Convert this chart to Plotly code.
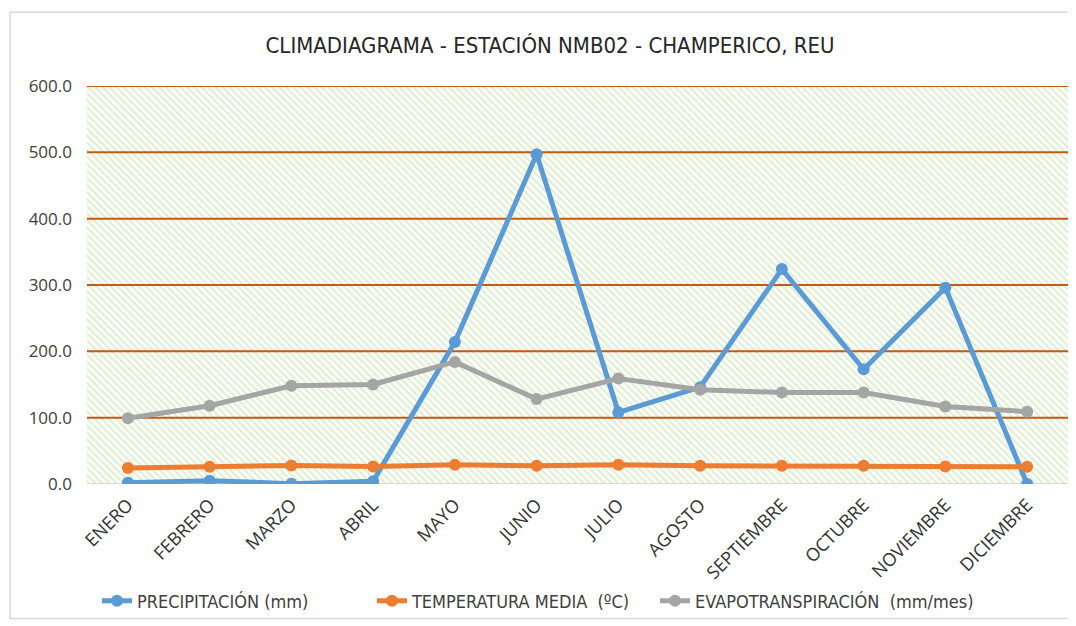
import plotly.graph_objects as go

# Climadiagrama - estacion NMB02 Champerico, REU
meses = ['ENERO', 'FEBRERO', 'MARZO', 'ABRIL', 'MAYO', 'JUNIO', 'JULIO',
         'AGOSTO', 'SEPTIEMBRE', 'OCTUBRE', 'NOVIEMBRE', 'DICIEMBRE']
precipitacion = [2.0, 5.0, 0.5, 4.0, 214.0, 497.0, 108.0, 146.0, 324.0, 173.0, 296.0, 0.0]
temperatura = [24.0, 26.0, 28.0, 26.5, 29.0, 27.5, 29.0, 27.5, 27.5, 27.5, 26.5, 26.0]
evapotranspiracion = [99.0, 118.0, 148.0, 150.0, 184.0, 128.0, 159.0, 142.0, 138.0, 138.0, 117.0, 109.0]
y_ticks = [0, 100, 200, 300, 400, 500, 600]

narrow = 'DejaVu Sans Condensed, Liberation Sans Narrow, Roboto, sans-serif'
body = 'Open Sans, Noto Sans, sans-serif'

idx = list(range(len(meses)))
x_lo, x_hi = -0.5, len(meses) - 0.5

fig = go.Figure()

# hatched green plot background (Excel pattern fill)
fig.add_trace(go.Bar(x=idx, y=[max(y_ticks)] * len(meses), width=1,
                     marker=dict(color='white', line=dict(width=0),
                                 pattern=dict(shape='\\', fgcolor='#c3deae', bgcolor='#fbfdf8',
                                              size=5, solidity=0.4)),
                     hoverinfo='skip', showlegend=False))

# orange gridlines drawn over the hatch, under the series
gx, gy = [], []
for t in y_ticks[1:]:
    gx += [x_lo, x_hi, None]
    gy += [t, t, None]
fig.add_trace(go.Scatter(x=gx, y=gy, mode='lines', line=dict(color='#C55A11', width=2),
                         hoverinfo='skip', showlegend=False, cliponaxis=False))
fig.add_trace(go.Scatter(x=[x_lo, x_hi], y=[0, 0], mode='lines',
                         line=dict(color='#d9d9d9', width=2),
                         hoverinfo='skip', showlegend=False, cliponaxis=False))

series = [('PRECIPITACIÓN (mm)', precipitacion, '#5B9BD5', 'legend', 0.0102),
          ('TEMPERATURA MEDIA  (ºC)', temperatura, '#ED7D31', 'legend2', 0.2905),
          ('EVAPOTRANSPIRACIÓN  (mm/mes)', evapotranspiracion, '#A5A5A5', 'legend3', 0.579)]
for name, vals, col, lg, _ in series:
    fig.add_trace(go.Scatter(x=idx, y=vals, name=name, mode='lines+markers', legend=lg,
                             line=dict(color=col, width=5),
                             marker=dict(color=col, size=12)))

legend_style = dict(orientation='h', xanchor='left', y=-0.291, yanchor='middle',
                    font=dict(family=narrow, size=18, color='#404040'),
                    bgcolor='rgba(0,0,0,0)')
legends = {lg: dict(legend_style, x=lx) for _, _, _, lg, lx in series}

fig.update_layout(
    width=1068, height=618,
    paper_bgcolor='white', plot_bgcolor='white',
    margin=dict(l=79, r=8, t=78, b=141),
    title=dict(text='CLIMADIAGRAMA - ESTACIÓN NMB02 - CHAMPERICO, REU',
               x=0.5075, xanchor='center', y=0.940, yanchor='middle',
               font=dict(family=narrow, size=22, color='#262626')),
    bargap=0,
    showlegend=True,
    xaxis=dict(tickangle=-45, tickvals=idx, ticktext=meses,
               tickfont=dict(family=body, size=18, color='#333333'),
               showgrid=False, showline=False, zeroline=False, ticks='', range=[x_lo, x_hi],
               ticklabelstandoff=6),
    yaxis=dict(range=[0, 600], tickvals=y_ticks, tickformat='.1f',
               tickfont=dict(family=body, size=17, color='#404040'),
               showgrid=False, zeroline=False, showline=False, ticks='',
               ticklabelstandoff=14),
    shapes=[dict(type='rect', xref='paper', yref='paper',
                 x0=-0.0785, x1=1.004, y0=-0.338, y1=1.185,
                 line=dict(color='#d9d9d9', width=1.5), layer='below')],
    **legends,
)

fig.write_html('out.html')
